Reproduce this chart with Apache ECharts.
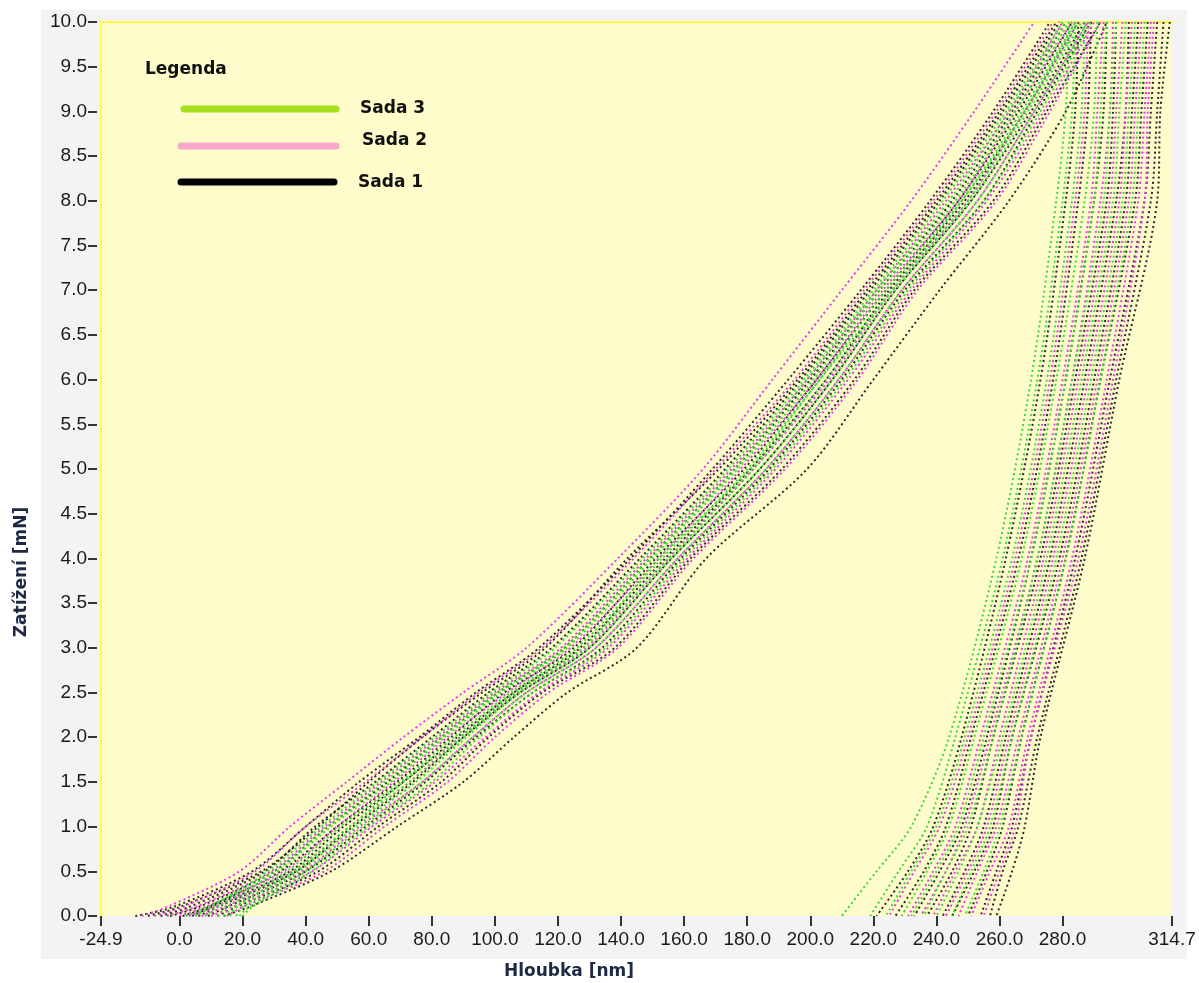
<!DOCTYPE html>
<html>
<head>
<meta charset="utf-8">
<script src="https://cdn.jsdelivr.net/npm/echarts@6/dist/echarts.min.js"></script>
<style>
html,body{margin:0;padding:0;background:#fff;}
#wrap{position:relative;width:1199px;height:983px;}
#panel{position:absolute;left:41px;top:10px;width:1146px;height:949px;background:#f3f3f5;}
#chart{position:absolute;left:0;top:0;width:1199px;height:983px;}
</style>
</head>
<body>
<div id="wrap"><div id="panel"></div><div id="chart"></div></div>
<script>
// zatizeni (mN) pro zatezovaci a odlehcovaci vetev
var loadLevels = [0, 0.1, 0.5, 1, 1.5, 2, 2.5, 3, 4, 5, 6, 7, 8, 9, 10];
var unloadLevels = [10, 9, 8, 6, 4, 2, 1, 0.5, 0];

var xTicks = [-24.9, 0, 20, 40, 60, 80, 100, 120, 140, 160, 180, 200, 220, 240, 260, 280, 314.7];

// Sada 1 - hloubka (nm)
var sada1Load = [
    [-14, -2, 23, 40, 57, 76, 94, 114, 143, 169, 193, 216, 238, 258, 276],
    [-6, 3, 27, 43, 62, 80, 98, 118, 146, 173, 197, 219, 241, 261, 279],
    [-3, 6, 30, 47, 66, 83, 101, 122, 149, 176, 200, 222, 245, 264, 281],
    [1, 9, 32, 50, 69, 86, 103, 125, 151, 179, 202, 224, 247, 266, 283],
    [4, 10, 35, 52, 71, 88, 106, 127, 154, 181, 205, 225, 249, 268, 285],
    [6, 12, 37, 55, 74, 90, 108, 130, 156, 184, 207, 227, 251, 270, 287],
    [9, 15, 40, 59, 78, 94, 112, 134, 159, 187, 210, 230, 255, 272, 289],
    [12, 18, 44, 63, 83, 98, 115, 138, 162, 191, 214, 233, 258, 275, 292],
    [14, 22, 48, 69, 90, 106, 123, 145, 167, 199, 220, 241, 263, 281, 294],
    [-10, 0, 26, 44, 60, 77, 96, 116, 142, 171, 196, 218, 240, 260, 278]
];
var sada1Unload = [
    [285, 284, 281, 273, 262, 248, 239, 231, 221],
    [289, 288, 285, 277, 266, 251, 243, 236, 227],
    [294, 293, 290, 281, 270, 256, 248, 241, 233],
    [297, 296, 294, 284, 273, 258, 251, 245, 237],
    [301, 300, 297, 287, 276, 262, 255, 249, 242],
    [304, 302, 300, 290, 279, 264, 258, 252, 245],
    [307, 305, 303, 292, 281, 267, 261, 256, 250],
    [310, 308, 306, 295, 284, 270, 264, 259, 254],
    [314, 311, 310, 298, 287, 273, 268, 264, 259],
    [312, 310, 308, 297, 286, 272, 266, 261, 257]
];

// Sada 2
var sada2Load = [
    [-12, -4, 19, 35, 53, 71, 90, 110, 139, 166, 188, 210, 232, 252, 271],
    [-8, 1, 24, 40, 59, 77, 95, 115, 144, 170, 195, 217, 239, 259, 277],
    [-4, 5, 29, 46, 64, 82, 100, 121, 148, 175, 199, 221, 243, 263, 280],
    [0, 8, 33, 50, 68, 85, 104, 124, 152, 178, 202, 223, 247, 265, 283],
    [3, 11, 36, 54, 73, 89, 107, 129, 155, 182, 206, 226, 250, 268, 285],
    [7, 14, 39, 57, 77, 93, 110, 132, 158, 186, 209, 229, 253, 271, 288],
    [10, 17, 42, 61, 81, 97, 114, 136, 161, 189, 212, 232, 256, 274, 290],
    [15, 20, 46, 65, 85, 100, 117, 139, 163, 192, 215, 234, 259, 276, 292]
];
var sada2Unload = [
    [288, 287, 284, 276, 265, 250, 241, 233, 225],
    [293, 291, 289, 280, 269, 254, 246, 239, 231],
    [296, 295, 292, 283, 272, 257, 249, 243, 235],
    [299, 297, 295, 285, 274, 260, 253, 246, 239],
    [302, 300, 298, 288, 277, 263, 256, 250, 243],
    [305, 303, 301, 291, 280, 266, 259, 253, 247],
    [308, 306, 304, 294, 283, 269, 263, 257, 251],
    [309, 307, 306, 296, 285, 270, 265, 260, 255]
];

// Sada 3
var sada3Load = [
    [5, 10, 28, 45, 63, 81, 99, 119, 147, 174, 198, 220, 242, 262, 280],
    [8, 12, 31, 48, 67, 84, 102, 123, 150, 177, 201, 222, 246, 265, 282],
    [12, 15, 34, 51, 70, 87, 105, 126, 153, 180, 203, 224, 248, 267, 284],
    [16, 18, 36, 54, 71, 89, 106, 128, 152, 181, 203, 226, 248, 268, 284],
    [18, 20, 38, 56, 75, 91, 108, 130, 156, 184, 207, 227, 251, 269, 286],
    [19, 22, 40, 58, 77, 93, 110, 132, 158, 186, 209, 229, 253, 271, 288],
    [20, 23, 42, 60, 80, 95, 112, 135, 160, 188, 211, 231, 255, 273, 289],
    [2, 9, 30, 47, 65, 83, 101, 122, 149, 176, 199, 221, 244, 263, 281],
    [14, 17, 37, 54, 73, 90, 107, 128, 155, 182, 205, 226, 250, 268, 285]
];
var sada3Unload = [
    [282, 281, 278, 270, 259, 244, 232, 221, 210],
    [284, 283, 280, 272, 261, 246, 237, 228, 219],
    [287, 286, 283, 275, 264, 249, 240, 232, 224],
    [291, 290, 287, 278, 267, 252, 244, 237, 229],
    [294, 292, 290, 281, 270, 255, 247, 240, 232],
    [297, 295, 293, 283, 272, 258, 250, 243, 236],
    [300, 298, 296, 286, 275, 261, 253, 247, 240],
    [303, 301, 299, 289, 278, 264, 257, 251, 245],
    [306, 304, 302, 292, 281, 267, 260, 255, 249]
];

function dotLine(name, pts, color){
    return {
        name: name,
        type: 'line',
        data: pts,
        smooth: 0.3,
        symbol: 'none',
        clip: true,
        silent: true,
        lineStyle: {color: color, width: 2, type: [2, 3], cap: 'butt'}
    };
}

function makeSeries(loads, unloads, color, name){
    var out = [];
    for(var i=0;i<loads.length;i++){
        var lp = [], up = [];
        for(var j=0;j<loadLevels.length;j++){
            lp.push([loads[i][j], loadLevels[j]]);
        }
        for(var k=0;k<unloadLevels.length;k++){
            up.push([unloads[i][k], unloadLevels[k]]);
        }
        out.push(dotLine(name, lp, color));
        out.push(dotLine(name, up, color));
    }
    return out;
}

var series = []
    .concat(makeSeries(sada1Load, sada1Unload, '#2b2b2b', 'Sada 1'))
    .concat(makeSeries(sada2Load, sada2Unload, '#e83ae8', 'Sada 2'))
    .concat(makeSeries(sada3Load, sada3Unload, '#3cd83c', 'Sada 3'));

var labelFont = {color: '#1a1a1a', fontFamily: 'Liberation Sans', fontSize: 19};
var boldFont = 'bold 17px "DejaVu Sans"';

var myChart = echarts.init(document.getElementById('chart'));
var option = {
    animation: false,
    grid: {
        left: 101, right: 27, top: 22, bottom: 67,
        show: true, backgroundColor: '#fffccc', borderWidth: 0
    },
    xAxis: [
        {
            type: 'value', min: -24.9, max: 314.7, position: 'bottom',
            axisLine: {show: false, onZero: false},
            axisTick: {show: true, customValues: xTicks, length: 10, lineStyle: {color: '#333', width: 2}},
            axisLabel: Object.assign({customValues: xTicks, margin: 14,
                formatter: function(v){ return v.toFixed(1); }}, labelFont),
            splitLine: {show: false}
        },
        {
            type: 'value', min: -24.9, max: 314.7, position: 'top',
            axisLine: {show: true, onZero: false, lineStyle: {color: '#ffff40', width: 2}},
            axisTick: {show: false}, axisLabel: {show: false}, splitLine: {show: false}
        }
    ],
    yAxis: [
        {
            type: 'value', min: 0, max: 10, interval: 0.5, position: 'left', offset: 4,
            axisLine: {show: false, onZero: false},
            axisTick: {show: true, length: 9, lineStyle: {color: '#333', width: 2}},
            axisLabel: Object.assign({margin: 10,
                formatter: function(v){ return v.toFixed(1); }}, labelFont),
            splitLine: {show: false}
        },
        {
            type: 'value', min: 0, max: 10, position: 'left', offset: 0,
            axisLine: {show: true, onZero: false, lineStyle: {color: '#ffff40', width: 2}},
            axisTick: {show: false}, axisLabel: {show: false}, splitLine: {show: false}
        }
    ],
    graphic: [
        {type: 'text', x: 22, y: 572, rotation: Math.PI / 2,
         style: {text: 'Zatížení [mN]', font: boldFont, fill: '#1e2a44', align: 'center', verticalAlign: 'middle'}},
        {type: 'text', x: 569, y: 972,
         style: {text: 'Hloubka [nm]', font: boldFont, fill: '#1e2a44', align: 'center', verticalAlign: 'middle'}},
        {type: 'text', x: 145, y: 70,
         style: {text: 'Legenda', font: boldFont, fill: '#111', align: 'left', verticalAlign: 'middle'}},
        {type: 'line', shape: {x1: 184, y1: 109, x2: 336, y2: 109},
         style: {stroke: '#a6e01c', lineWidth: 7, lineCap: 'round'}},
        {type: 'text', x: 360, y: 109,
         style: {text: 'Sada 3', font: boldFont, fill: '#111', align: 'left', verticalAlign: 'middle'}},
        {type: 'line', shape: {x1: 181, y1: 146, x2: 336, y2: 146},
         style: {stroke: '#f7a8cc', lineWidth: 7, lineCap: 'round'}},
        {type: 'text', x: 362, y: 141,
         style: {text: 'Sada 2', font: boldFont, fill: '#111', align: 'left', verticalAlign: 'middle'}},
        {type: 'line', shape: {x1: 181, y1: 182, x2: 334, y2: 182},
         style: {stroke: '#000', lineWidth: 7, lineCap: 'round'}},
        {type: 'text', x: 358, y: 183,
         style: {text: 'Sada 1', font: boldFont, fill: '#111', align: 'left', verticalAlign: 'middle'}}
    ],
    series: series
};
myChart.setOption(option);
</script>
</body>
</html>
